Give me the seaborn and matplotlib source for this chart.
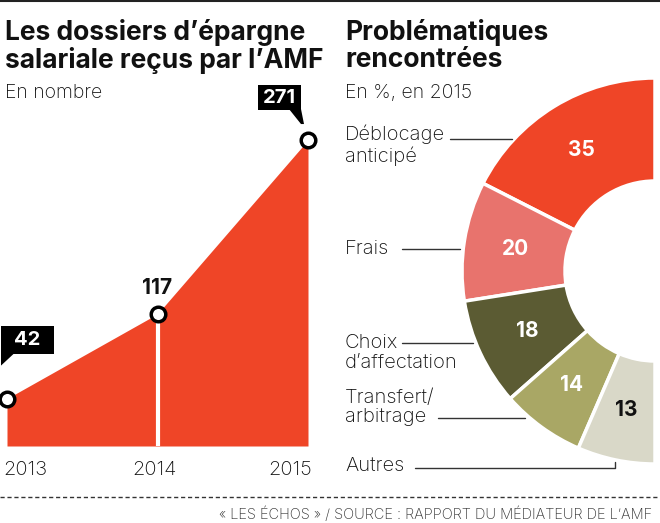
import matplotlib
matplotlib.use("Agg")
import matplotlib.pyplot as plt
from matplotlib.patches import Polygon, Rectangle
from matplotlib.lines import Line2D
import seaborn as sns
import pandas as pd
import numpy as np

# data
years = [2013, 2014, 2015]
dossiers = [42, 117, 271]

categories = ["Déblocage\nanticipé", "Frais", "Choix\nd’affectation",
              "Transfert/\narbitrage", "Autres"]
shares = [35, 20, 18, 14, 13]

RED = "#EF4527"
slice_colors = ["#EF4527", "#E8736D", "#5B5B33", "#A9A765", "#D9D8C8"]
value_colors = ["white", "white", "white", "white", "#111111"]

W, H = 660, 523
sns.set_theme(style="white")
plt.rcParams["font.family"] = ["Inter", "DejaVu Sans"]

fig = plt.figure(figsize=(W / 100, H / 100), dpi=100)


def fx(x):
    return x / W


def fy(y):
    return 1 - y / H


def ftext(x, y, s, **kw):
    fig.text(fx(x), fy(y), s, va="baseline", **kw)


def fline(xs, ys, **kw):
    fig.add_artist(Line2D([fx(x) for x in xs], [fy(y) for y in ys],
                          transform=fig.transFigure, **kw))


# ---- left panel: area chart ----
ax_left, ax_right_px, base_px, top_px = 7, 308, 446, 130
ax = fig.add_axes([fx(ax_left), fy(base_px), fx(ax_right_px - ax_left),
                   (base_px - top_px) / H])
df = pd.DataFrame({"year": years, "n": dossiers})
ax.fill_between(df["year"], 0, df["n"], color=RED, lw=0)
sns.lineplot(data=df, x="year", y="n", ax=ax, color=RED, lw=0)
ax.vlines(2014, 0, dossiers[1], color="white", lw=3)
sns.scatterplot(data=df, x="year", y="n", ax=ax, s=110, color="white",
                edgecolor="black", linewidth=2.5, zorder=5, clip_on=False)
ax.set_xlim(2013, 2015)
ax.set_ylim(0, (base_px - top_px) / 1.129)
ax.axis("off")

# tick labels
tick_kw = dict(fontsize=14.5, fontweight="light", color="#111111")
ftext(3, 475, "2013", ha="left", **tick_kw)
ftext(155, 475, "2014", ha="center", **tick_kw)
ftext(312, 475, "2015", ha="right", **tick_kw)

# callouts anchored on the data points (display pixels)
fig.canvas.draw()


def to_px(x, y):
    dx, dy = ax.transData.transform((x, y))
    return dx, H - dy


p0 = to_px(years[0], dossiers[0])
p1 = to_px(years[1], dossiers[1])
p2 = to_px(years[2], dossiers[2])

# 42 box, above the 2013 point
bx0, bx1, by0, by1 = p0[0] - 6, p0[0] + 47, p0[1] - 73, p0[1] - 45
fig.add_artist(Rectangle((fx(bx0), fy(by1)), fx(bx1 - bx0), (by1 - by0) / H,
                         transform=fig.transFigure, color="black", lw=0))
fig.add_artist(Polygon([(fx(bx0), fy(by1 - 1)), (fx(bx0 + 14), fy(by1 - 1)),
                        (fx(bx0), fy(by1 + 12))],
                       transform=fig.transFigure, color="black", lw=0))
fig.text(fx((bx0 + bx1) / 2), fy((by0 + by1) / 2), str(dossiers[0]),
         color="white", fontsize=14.5, fontweight="bold", ha="center", va="center")

# 117 label
ftext(p1[0], p1[1] - 20, str(dossiers[1]), fontsize=15, fontweight="bold",
      ha="center", color="#111111")

# 271 box
bx0, bx1, by0, by1 = p2[0] - 50, p2[0] - 7, p2[1] - 55, p2[1] - 30
fig.add_artist(Rectangle((fx(bx0), fy(by1)), fx(bx1 - bx0), (by1 - by0) / H,
                         transform=fig.transFigure, color="black", lw=0))
fig.add_artist(Polygon([(fx(bx1 - 12), fy(by1 - 1)), (fx(bx1), fy(by1 - 1)),
                        (fx(bx1 + 3), fy(by1 + 14)), (fx(bx1), fy(by1 + 14))],
                       transform=fig.transFigure, color="black", lw=0))
fig.text(fx((bx0 + bx1) / 2), fy((by0 + by1) / 2), str(dossiers[2]),
         color="white", fontsize=14.5, fontweight="bold", ha="center", va="center")

# ---- right panel: half donut ----
cx, cy, R, r_in = 655, 271, 193, 90
ax2 = fig.add_axes([fx(cx - R), fy(cy + R), 2 * R / W, 2 * R / H])
wedges, _ = ax2.pie(shares + [sum(shares)], colors=slice_colors + ["white"],
                    startangle=90, counterclock=True, radius=1,
                    wedgeprops=dict(width=1 - r_in / R, edgecolor="white",
                                    linewidth=2.5))
wedges[-1].set_visible(False)
ax2.set_xlim(-1, 1)
ax2.set_ylim(-1, 1)
ax2.set_aspect("auto")
ax2.axis("off")

mid_r = (1 + r_in / R) / 2
for w, v, c in zip(wedges[:-1], shares, value_colors):
    ang = np.deg2rad((w.theta1 + w.theta2) / 2)
    ax2.text(mid_r * np.cos(ang), mid_r * np.sin(ang), str(v), color=c,
             fontsize=15, fontweight="bold", ha="center", va="center")

# category labels and leader lines
lab_kw = dict(fontsize=14.5, fontweight="light", ha="left", color="#111111",
              linespacing=1.1, va="top")
fig.text(fx(345), fy(125), categories[0], **lab_kw)
fig.text(fx(345), fy(240), categories[1], **lab_kw)
fig.text(fx(345), fy(334), categories[2], **lab_kw)
fig.text(fx(345), fy(389), categories[3], **lab_kw)
fig.text(fx(345), fy(457), categories[4], **lab_kw)

line_kw = dict(color="#333333", lw=1)
fline([450, 512], [139, 139], **line_kw)
fline([402, 460], [249, 249], **line_kw)
fline([402, 473], [343, 343], **line_kw)
fline([438, 525], [418, 418], **line_kw)
fline([415, 615, 615], [468, 468, 462], **line_kw)

# titles
title_kw = dict(fontsize=19, fontweight="bold", color="#111111", ha="left",
                linespacing=1.05)
ftext(5, 68, "Les dossiers d’épargne\nsalariale reçus par l’AMF", **title_kw)
ftext(345, 67, "Problématiques\nrencontrées", **title_kw)
ftext(5, 98, "En nombre", fontsize=14, fontweight="light", color="#111111")
ftext(345, 98, "En %, en 2015", fontsize=14, fontweight="light", color="#111111")

# frame lines and source
fline([0, W], [1, 1], color="#222222", lw=1.5)
fline([0, W], [497, 497], color="#333333", lw=1, ls=(0, (3, 2)))
ftext(652, 519, "« LES ÉCHOS » / SOURCE : RAPPORT DU MÉDIATEUR DE L’AMF",
      fontsize=10.5, fontweight="light", color="#333333", ha="right")

fig.savefig("out.png", dpi=100, facecolor="white")
